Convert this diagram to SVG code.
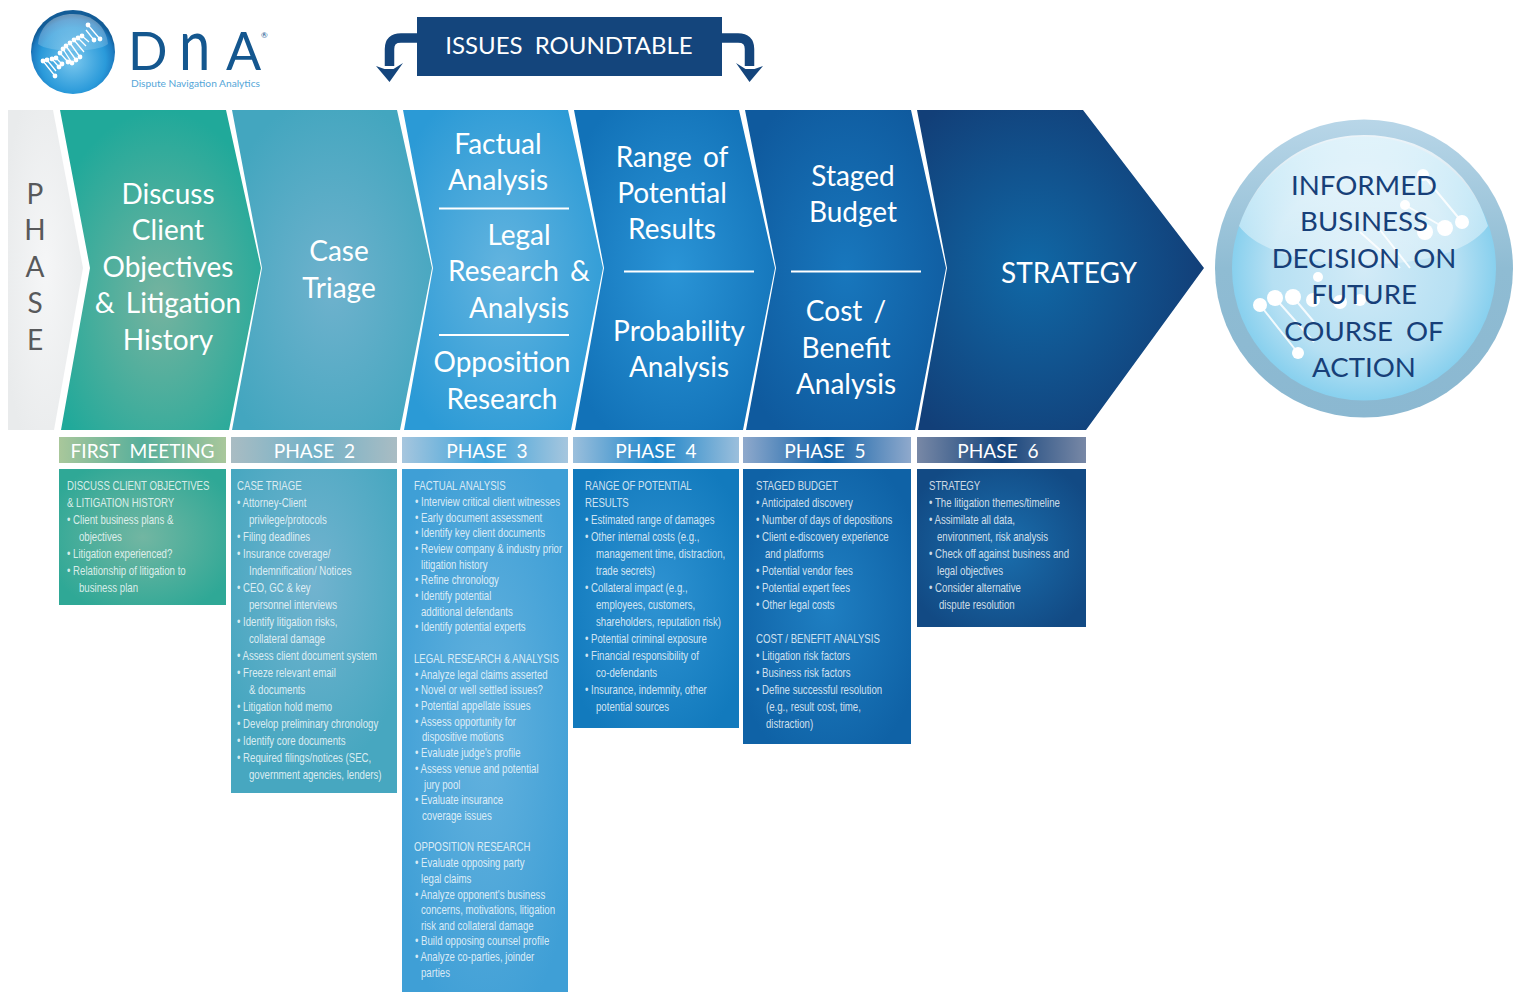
<svg xmlns="http://www.w3.org/2000/svg" width="1521" height="992" viewBox="0 0 1521 992">
<defs>
<style>
.big{font-family:Lato,"Open Sans",sans-serif;font-size:28px;fill:#fff;text-anchor:middle;word-spacing:4px}
.hd{font-family:Lato,"Open Sans",sans-serif;font-size:19.100px;fill:#fff;text-anchor:middle;word-spacing:5px}
.s{font-family:"Liberation Sans",Arial,sans-serif;font-size:12px;fill:#fff;fill-opacity:.8}
.ball{font-family:Lato,"Open Sans",sans-serif;font-size:27.6px;fill:#173f78;text-anchor:middle;word-spacing:6px}
.ph{font-family:Lato,"Open Sans",sans-serif;font-size:28px;fill:#58595b;text-anchor:middle}
.lg{font-family:Lato,"Open Sans",sans-serif;font-weight:400;fill:#14578f}
.rule{stroke:#fff;stroke-width:2.2}
.conn{fill:none;stroke:#14457c;stroke-width:9.500}
.dot{fill:#fff}.dl{stroke:#fff;stroke-width:2;fill:none;stroke-opacity:.85}
</style>
<radialGradient id="g0" cx=".5" cy=".5" r=".6"><stop offset="0" stop-color="#f5f6f7"/><stop offset="1" stop-color="#e9ebec"/></radialGradient>
<radialGradient id="g1" cx=".5" cy=".6" r=".6"><stop offset="0" stop-color="#76b39f"/><stop offset="1" stop-color="#20a99a"/></radialGradient>
<radialGradient id="g2" cx=".5" cy=".55" r=".6"><stop offset="0" stop-color="#6fb2cd"/><stop offset="1" stop-color="#43a6bf"/></radialGradient>
<radialGradient id="g3" cx=".5" cy=".5" r=".6"><stop offset="0" stop-color="#63b4df"/><stop offset="1" stop-color="#2b9ad6"/></radialGradient>
<radialGradient id="g4" cx=".5" cy=".5" r=".6"><stop offset="0" stop-color="#2a94d6"/><stop offset="1" stop-color="#1272b8"/></radialGradient>
<radialGradient id="g5" cx=".5" cy=".5" r=".6"><stop offset="0" stop-color="#1877bd"/><stop offset="1" stop-color="#0f5a9e"/></radialGradient>
<radialGradient id="g6" cx=".4" cy=".5" r=".6"><stop offset="0" stop-color="#1068a6"/><stop offset="1" stop-color="#123f78"/></radialGradient>
<linearGradient id="h1"><stop offset="0" stop-color="#a9c79b"/><stop offset=".5" stop-color="#57af9b"/><stop offset="1" stop-color="#a9c79b"/></linearGradient>
<linearGradient id="h2"><stop offset="0" stop-color="#a9bcc3"/><stop offset=".5" stop-color="#72b2c8"/><stop offset="1" stop-color="#a9bcc3"/></linearGradient>
<linearGradient id="h3"><stop offset="0" stop-color="#a6c6de"/><stop offset=".5" stop-color="#3ea3da"/><stop offset="1" stop-color="#a6c6de"/></linearGradient>
<linearGradient id="h4"><stop offset="0" stop-color="#9bbfdc"/><stop offset=".5" stop-color="#1d85c9"/><stop offset="1" stop-color="#9bbfdc"/></linearGradient>
<linearGradient id="h5"><stop offset="0" stop-color="#8fa9cc"/><stop offset=".5" stop-color="#1263a9"/><stop offset="1" stop-color="#8fa9cc"/></linearGradient>
<linearGradient id="h6"><stop offset="0" stop-color="#7888a6"/><stop offset=".5" stop-color="#15447c"/><stop offset="1" stop-color="#7888a6"/></linearGradient>
<radialGradient id="b1" cx=".5" cy=".5" r=".6"><stop offset="0" stop-color="#72b6a2"/><stop offset="1" stop-color="#2fa896"/></radialGradient>
<radialGradient id="b2" cx=".5" cy=".35" r=".6"><stop offset="0" stop-color="#72b3cf"/><stop offset="1" stop-color="#47a7c0"/></radialGradient>
<radialGradient id="b3" cx=".5" cy=".5" r=".6"><stop offset="0" stop-color="#64b2de"/><stop offset="1" stop-color="#3f9fd6"/></radialGradient>
<radialGradient id="b4" cx=".5" cy=".5" r=".6"><stop offset="0" stop-color="#2f93d2"/><stop offset="1" stop-color="#127abd"/></radialGradient>
<radialGradient id="b5" cx=".5" cy=".5" r=".6"><stop offset="0" stop-color="#1f7fc2"/><stop offset="1" stop-color="#0f62a6"/></radialGradient>
<radialGradient id="b6" cx=".5" cy=".5" r=".6"><stop offset="0" stop-color="#1a6fae"/><stop offset="1" stop-color="#124a84"/></radialGradient>
<radialGradient id="ballg" cx=".5" cy=".5" r=".5"><stop offset="0" stop-color="#d3ebf7"/><stop offset=".7" stop-color="#b6e0f3"/><stop offset="1" stop-color="#88d0ee"/></radialGradient>
<linearGradient id="ring" x1="0" y1="0" x2="0" y2="1"><stop offset="0" stop-color="#b8d6e8"/><stop offset=".5" stop-color="#8fbcd3"/><stop offset="1" stop-color="#8bb8d1"/></linearGradient>
<linearGradient id="shine" x1="0" y1="0" x2="0" y2="1"><stop offset="0" stop-color="#fff" stop-opacity=".75"/><stop offset="1" stop-color="#fff" stop-opacity=".3"/></linearGradient>
<radialGradient id="logog" cx=".5" cy=".6" r=".54"><stop offset="0" stop-color="#7cc8ee"/><stop offset=".72" stop-color="#2a9ada"/><stop offset=".9" stop-color="#1d7cc2"/><stop offset="1" stop-color="#125c97"/></radialGradient>
<marker id="ahL" markerUnits="userSpaceOnUse" markerWidth="32" markerHeight="24" refX="15" refY="3" orient="0" overflow="visible"><path d="M1.500,3 L10,6 L19,6 L28.500,0 L15,19 Z" fill="#14457c"/></marker>
<marker id="ahR" markerUnits="userSpaceOnUse" markerWidth="32" markerHeight="24" refX="14" refY="3" orient="0" overflow="visible"><path d="M0.500,0 L10,6 L19,6 L27.500,3 L14,19 Z" fill="#14457c"/></marker>
</defs>
<rect width="1521" height="992" fill="#fff"/>

<g id="logo">
<circle cx="73" cy="52" r="42" fill="url(#logog)"/>
<path d="M38,44 C40,24 55,14 73,14 C92,14 106,26 108,44 C98,53 48,53 38,44 Z" fill="url(#shine)" fill-opacity=".5"/>
<path d="M43,61 L55,76 M47,60 L56,71 M52,59 L59,67 M56,58 L62,64 M60,53 L68,62 M63,49 L72,63 M66,46 L76,60 M70,43 L80,57 M74,40 L84,52 M78,38 L86,46 M82,36 L89,42 M86,30 L94,40 M88,25 L100,39" stroke="#fff" stroke-width="1.300" fill="none"/>
<g fill="#fff">
<circle cx="43" cy="61" r="2.400"/><circle cx="47" cy="60" r="2.400"/><circle cx="52" cy="59" r="2.400"/><circle cx="56" cy="58" r="2.400"/><circle cx="55" cy="76" r="2.400"/><circle cx="59" cy="67" r="2.400"/><circle cx="62" cy="64" r="2.400"/><circle cx="68" cy="62" r="2.400"/><circle cx="72" cy="63" r="2.400"/><circle cx="76" cy="60" r="2.400"/><circle cx="80" cy="57" r="2.400"/><circle cx="60" cy="53" r="2.400"/><circle cx="63" cy="49" r="2.400"/><circle cx="66" cy="46" r="2.400"/><circle cx="70" cy="43" r="2.400"/><circle cx="74" cy="40" r="2.400"/><circle cx="78" cy="38" r="2.400"/><circle cx="82" cy="36" r="2.400"/><circle cx="88" cy="25" r="2.400"/><circle cx="94" cy="40" r="2.400"/><circle cx="100" cy="39" r="2.400"/>
</g>
<text class="lg" x="128" y="70" font-size="52">D</text>
<text class="lg" transform="translate(179 70) scale(.78 1)" font-size="72">n</text>
<text class="lg" x="226" y="70" font-size="52">A</text>
<text x="261" y="38" font-family="Lato,sans-serif" font-size="8" fill="#14578f">®</text>
<text x="131" y="87" font-family="Lato,sans-serif" font-size="10.200" fill="#55a6d8">Dispute Navigation Analytics</text>
</g>

<g id="issues-roundtable">
<rect x="417" y="17" width="305" height="59" fill="#14457c"/>
<text class="hd" x="569" y="54" style="font-size:24px;word-spacing:6px">ISSUES ROUNDTABLE</text>
</g>

<g id="connectors">
<path class="conn" d="M417,38 H401 Q389.500,38 389.500,49 V66" marker-end="url(#ahL)"/>
<path class="conn" d="M722,38 H738 Q749.500,38 749.500,49 V66" marker-end="url(#ahR)"/>
</g>

<g id="phase-label">
<polygon points="8,110 53,110 83,268 54,430 8,430" fill="url(#g0)"/>
<text class="ph" x="35" y="204">P</text><text class="ph" x="35" y="240">H</text><text class="ph" x="35" y="277">A</text><text class="ph" x="35" y="313">S</text><text class="ph" x="35" y="350">E</text>
</g>

<g id="chevron-1">
<polygon points="60,110 226,110 261,268 229,430 61,430 90,268" fill="url(#g1)"/>
<text class="big" x="168" y="204">Discuss</text><text class="big" x="168" y="240">Client</text><text class="big" x="168" y="277">Objectives</text><text class="big" x="168" y="313">&amp; Litigation</text><text class="big" x="168" y="350">History</text>
</g>
<g id="chevron-2">
<polygon points="232,110 397,110 432,268 400,430 232,430 262,268" fill="url(#g2)"/>
<text class="big" x="339" y="261">Case</text><text class="big" x="339" y="298">Triage</text>
</g>
<g id="chevron-3">
<polygon points="403,110 568,110 603,268 571,430 404,430 433,268" fill="url(#g3)"/>
<text class="big" x="498" y="154">Factual</text><text class="big" x="498" y="190">Analysis</text>
<line class="rule" x1="439" y1="208.500" x2="569" y2="208.500"/>
<text class="big" x="519" y="245">Legal</text><text class="big" x="519" y="281">Research &amp;</text><text class="big" x="519" y="318">Analysis</text>
<line class="rule" x1="439" y1="335" x2="569" y2="335"/>
<text class="big" x="502" y="372">Opposition</text><text class="big" x="502" y="409">Research</text>
</g>
<g id="chevron-4">
<polygon points="574,110 739,110 775,268 743,430 575,430 604,268" fill="url(#g4)"/>
<text class="big" x="672" y="167">Range of</text><text class="big" x="672" y="203">Potential</text><text class="big" x="672" y="239">Results</text>
<line class="rule" x1="624" y1="271.500" x2="754" y2="271.500"/>
<text class="big" x="679" y="341">Probability</text><text class="big" x="679" y="377">Analysis</text>
</g>
<g id="chevron-5">
<polygon points="745,110 911,110 946,268 915,430 746,430 776,268" fill="url(#g5)"/>
<text class="big" x="853" y="186">Staged</text><text class="big" x="853" y="222">Budget</text>
<line class="rule" x1="791" y1="271.500" x2="921" y2="271.500"/>
<text class="big" x="846" y="321">Cost /</text><text class="big" x="846" y="358">Benefit</text><text class="big" x="846" y="394">Analysis</text>
</g>
<g id="chevron-6">
<polygon points="917,110 1083,110 1204,268 1086,430 918,430 947,268" fill="url(#g6)"/>
<text class="big" x="1069" y="283">STRATEGY</text>
</g>

<g id="decision-ball">
<circle cx="1364" cy="268.500" r="149" fill="url(#ring)"/>
<circle cx="1364" cy="268.500" r="132" fill="url(#ballg)"/>
<path d="M1239,226 C1262,160 1316,135 1364,135 C1420,135 1470,165 1488,226 C1470,252 1420,265 1364,264 C1310,265 1258,252 1239,226 Z" fill="url(#shine)"/>
<g class="dot">
<circle cx="1423" cy="175" r="6"/><circle cx="1462" cy="222" r="7"/><circle cx="1445" cy="228" r="8"/><circle cx="1425" cy="232" r="8"/><circle cx="1405" cy="205" r="5"/><circle cx="1260" cy="305" r="7"/><circle cx="1275" cy="298" r="8"/><circle cx="1293" cy="297" r="8"/><circle cx="1313" cy="300" r="7"/><circle cx="1340" cy="302" r="7"/><circle cx="1360" cy="300" r="6"/><circle cx="1298" cy="353" r="6"/><circle cx="1318" cy="277" r="5"/>
</g>
<path class="dl" d="M1423,175 L1462,222 M1405,205 L1445,228 M1360,232 L1400,268 M1380,230 L1410,268 M1260,305 L1298,353 M1275,298 L1314,342 M1293,297 L1314,322"/>
<text class="ball" x="1364" y="195">INFORMED</text><text class="ball" x="1364" y="231">BUSINESS</text><text class="ball" x="1364" y="268">DECISION ON</text><text class="ball" x="1364" y="304">FUTURE</text><text class="ball" x="1364" y="341">COURSE OF</text><text class="ball" x="1364" y="377">ACTION</text>
</g>

<g id="phase-first-meeting">
<rect x="59" y="437" width="167" height="26" fill="url(#h1)"/><text class="hd" x="142.500" y="458">FIRST MEETING</text>
<rect x="59" y="469" width="167" height="136" fill="url(#b1)"/>
<g transform="scale(.806 1)">
<text class="s" x="83.130" y="490">DISCUSS CLIENT OBJECTIVES</text>
<text class="s" x="83.130" y="507">&amp; LITIGATION HISTORY</text>
<text class="s" x="83.130" y="524">• Client business plans &amp;</text>
<text class="s" x="98.010" y="541">objectives</text>
<text class="s" x="83.130" y="558">• Litigation experienced?</text>
<text class="s" x="83.130" y="575">• Relationship of litigation to</text>
<text class="s" x="98.010" y="592">business plan</text>
</g>
</g>

<g id="phase-2">
<rect x="231" y="437" width="166" height="26" fill="url(#h2)"/><text class="hd" x="314.500" y="458">PHASE 2</text>
<rect x="231" y="469" width="166" height="324" fill="url(#b2)"/>
<g transform="scale(.806 1)">
<text class="s" x="294.040" y="490">CASE TRIAGE</text>
<text class="s" x="294.040" y="507">• Attorney-Client</text>
<text class="s" x="308.930" y="524">privilege/protocols</text>
<text class="s" x="294.040" y="541">• Filing deadlines</text>
<text class="s" x="294.040" y="558">• Insurance coverage/</text>
<text class="s" x="308.930" y="575">Indemnification/ Notices</text>
<text class="s" x="294.040" y="592">• CEO, GC &amp; key</text>
<text class="s" x="308.930" y="609">personnel interviews</text>
<text class="s" x="294.040" y="626">• Identify litigation risks,</text>
<text class="s" x="308.930" y="643">collateral damage</text>
<text class="s" x="294.040" y="660">• Assess client document system</text>
<text class="s" x="294.040" y="677">• Freeze relevant email</text>
<text class="s" x="308.930" y="694">&amp; documents</text>
<text class="s" x="294.040" y="711">• Litigation hold memo</text>
<text class="s" x="294.040" y="728">• Develop preliminary chronology</text>
<text class="s" x="294.040" y="745">• Identify core documents</text>
<text class="s" x="294.040" y="762">• Required filings/notices (SEC,</text>
<text class="s" x="308.930" y="779">government agencies, lenders)</text>
</g>
</g>

<g id="phase-3">
<rect x="402" y="437" width="166" height="26" fill="url(#h3)"/><text class="hd" x="487" y="458">PHASE 3</text>
<rect x="402" y="469" width="166" height="523" fill="url(#b3)"/>
<g transform="scale(.806 1)">
<text class="s" x="513.650" y="490">FACTUAL ANALYSIS</text>
<text class="s" x="514.890" y="506">• Interview critical client witnesses</text>
<text class="s" x="514.890" y="522">• Early document assessment</text>
<text class="s" x="514.890" y="537">• Identify key client documents</text>
<text class="s" x="514.890" y="553">• Review company &amp; industry prior</text>
<text class="s" x="522.330" y="569">litigation history</text>
<text class="s" x="514.890" y="584">• Refine chronology</text>
<text class="s" x="514.890" y="600">• Identify potential</text>
<text class="s" x="522.330" y="616">additional defendants</text>
<text class="s" x="514.890" y="631">• Identify potential experts</text>
<text class="s" x="513.650" y="663">LEGAL RESEARCH &amp; ANALYSIS</text>
<text class="s" x="514.890" y="679">• Analyze legal claims asserted</text>
<text class="s" x="514.890" y="694">• Novel or well settled issues?</text>
<text class="s" x="514.890" y="710">• Potential appellate issues</text>
<text class="s" x="514.890" y="726">• Assess opportunity for</text>
<text class="s" x="523.570" y="741">dispositive motions</text>
<text class="s" x="514.890" y="757">• Evaluate judge's profile</text>
<text class="s" x="514.890" y="773">• Assess venue and potential</text>
<text class="s" x="526.050" y="789">jury pool</text>
<text class="s" x="514.890" y="804">• Evaluate insurance</text>
<text class="s" x="523.570" y="820">coverage issues</text>
<text class="s" x="513.650" y="851">OPPOSITION RESEARCH</text>
<text class="s" x="514.890" y="867">• Evaluate opposing party</text>
<text class="s" x="522.330" y="883">legal claims</text>
<text class="s" x="514.890" y="899">• Analyze opponent's business</text>
<text class="s" x="522.330" y="914">concerns, motivations, litigation</text>
<text class="s" x="522.330" y="930">risk and collateral damage</text>
<text class="s" x="514.890" y="945">• Build opposing counsel profile</text>
<text class="s" x="514.890" y="961">• Analyze co-parties, joinder</text>
<text class="s" x="522.330" y="977">parties</text>
</g>
</g>

<g id="phase-4">
<rect x="573" y="437" width="166" height="26" fill="url(#h4)"/><text class="hd" x="656" y="458">PHASE 4</text>
<rect x="573" y="469" width="166" height="259" fill="url(#b4)"/>
<g transform="scale(.806 1)">
<text class="s" x="725.810" y="490">RANGE OF POTENTIAL</text>
<text class="s" x="725.810" y="507">RESULTS</text>
<text class="s" x="725.810" y="524">• Estimated range of damages</text>
<text class="s" x="725.810" y="541">• Other internal costs (e.g.,</text>
<text class="s" x="739.450" y="558">management time, distraction,</text>
<text class="s" x="739.450" y="575">trade secrets)</text>
<text class="s" x="725.810" y="592">• Collateral impact (e.g.,</text>
<text class="s" x="739.450" y="609">employees, customers,</text>
<text class="s" x="739.450" y="626">shareholders, reputation risk)</text>
<text class="s" x="725.810" y="643">• Potential criminal exposure</text>
<text class="s" x="725.810" y="660">• Financial responsibility of</text>
<text class="s" x="739.450" y="677">co-defendants</text>
<text class="s" x="725.810" y="694">• Insurance, indemnity, other</text>
<text class="s" x="739.450" y="711">potential sources</text>
</g>
</g>

<g id="phase-5">
<rect x="743" y="437" width="168" height="26" fill="url(#h5)"/><text class="hd" x="825" y="458">PHASE 5</text>
<rect x="743" y="469" width="168" height="275" fill="url(#b5)"/>
<g transform="scale(.806 1)">
<text class="s" x="937.970" y="490">STAGED BUDGET</text>
<text class="s" x="937.970" y="507">• Anticipated discovery</text>
<text class="s" x="937.970" y="524">• Number of days of depositions</text>
<text class="s" x="937.970" y="541">• Client e-discovery experience</text>
<text class="s" x="949.130" y="558">and platforms</text>
<text class="s" x="937.970" y="575">• Potential vendor fees</text>
<text class="s" x="937.970" y="592">• Potential expert fees</text>
<text class="s" x="937.970" y="609">• Other legal costs</text>
<text class="s" x="937.970" y="643">COST / BENEFIT ANALYSIS</text>
<text class="s" x="937.970" y="660">• Litigation risk factors</text>
<text class="s" x="937.970" y="677">• Business risk factors</text>
<text class="s" x="937.970" y="694">• Define successful resolution</text>
<text class="s" x="950.370" y="711">(e.g., result cost, time,</text>
<text class="s" x="950.370" y="728">distraction)</text>
</g>
</g>

<g id="phase-6">
<rect x="917" y="437" width="169" height="26" fill="url(#h6)"/><text class="hd" x="998" y="458">PHASE 6</text>
<rect x="917" y="469" width="169" height="158" fill="url(#b6)"/>
<g transform="scale(.806 1)">
<text class="s" x="1152.610" y="490">STRATEGY</text>
<text class="s" x="1152.610" y="507">• The litigation themes/timeline</text>
<text class="s" x="1152.610" y="524">• Assimilate all data,</text>
<text class="s" x="1162.530" y="541">environment, risk analysis</text>
<text class="s" x="1152.610" y="558">• Check off against business and</text>
<text class="s" x="1162.530" y="575">legal objectives</text>
<text class="s" x="1152.610" y="592">• Consider alternative</text>
<text class="s" x="1165.010" y="609">dispute resolution</text>
</g>
</g>
</svg>
